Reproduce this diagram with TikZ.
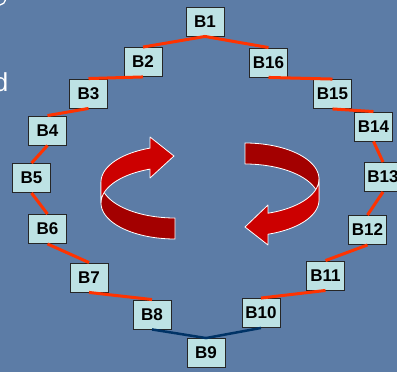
\documentclass[tikz,border=0pt]{standalone}
\usepackage{fontspec}
\setmainfont{Liberation Sans}
\usepackage{xcolor}
\definecolor{slide}{RGB}{92,124,166}
\definecolor{boxfill}{RGB}{189,226,228}
\definecolor{linkred}{RGB}{255,51,0}
\definecolor{linkblue}{RGB}{0,51,102}
\definecolor{ribbon}{RGB}{204,0,0}
\definecolor{ribbondark}{RGB}{163,0,0}

\begin{document}
\begin{tikzpicture}[x=1pt, y=-1pt]
        % Styles for the boxes, the links and the ribbon arrows
        \tikzstyle{block} = [rectangle, draw=black!85, line width=0.9pt, fill=boxfill,
                             minimum width=38pt, minimum height=29pt, inner sep=0pt,
                             font=\bfseries\fontsize{17}{17}\selectfont]
        \tikzstyle{link} = [linkred, line width=3pt]
        \tikzstyle{bottomlink} = [linkblue, line width=2.5pt]
        \tikzstyle{front} = [fill=ribbon, draw=white, line width=0.8pt, line join=round]
        \tikzstyle{back} = [fill=ribbondark, draw=white, line width=0.8pt, line join=round]

        % Slide background
        \fill[slide] (0,0) rectangle (397,372);
        \useasboundingbox (0,0) rectangle (397,372);

        % Bits of slide text cut at the left edge
        \draw[white, line width=1.3pt] (0,5) .. controls (3,4.5) and (5,2.5) .. (5.5,0);
        \node[white, anchor=base east, inner sep=0pt, font=\fontsize{26}{26}\selectfont] (cut) at (8.5,91) {d};

        % Left ribbon arrow (turns clockwise)
        \filldraw[back] plot[domain=180:90, samples=40] ({175+74*cos(\x)},{182+36*sin(\x)})
            -- plot[domain=90:180, samples=40] ({175+74*cos(\x)},{203+36*sin(\x)}) -- cycle;
        \filldraw[front] plot[domain=180:250.3, samples=40] ({175+74*cos(\x)},{182+36*sin(\x)})
            -- (150,137) -- (174,156) -- (150,178)
            -- plot[domain=250.3:180, samples=40] ({175+74*cos(\x)},{203+36*sin(\x)}) -- cycle;

        % Right ribbon arrow
        \filldraw[back] plot[domain=270:360, samples=40] ({245+74*cos(\x)},{179+36*sin(\x)})
            -- plot[domain=360:270, samples=40] ({245+74*cos(\x)},{200+36*sin(\x)}) -- cycle;
        \filldraw[front] plot[domain=0:71.9, samples=40] ({245+74*cos(\x)},{179+36*sin(\x)})
            -- (268,205) -- (245,227) -- (268,245)
            -- plot[domain=71.9:0, samples=40] ({245+74*cos(\x)},{200+36*sin(\x)}) -- cycle;

        % Blocks round the ring
        \node (b1) [block] at (205,21.5) {B1};
        \node (b2) [block] at (143,62) {B2};
        \node (b3) [block] at (88.5,93.5) {B3};
        \node (b4) [block] at (47.5,130.5) {B4};
        \node (b5) [block] at (31.5,178) {B5};
        \node (b6) [block] at (47.5,229) {B6};
        \node (b7) [block] at (89,277.5) {B7};
        \node (b8) [block] at (152,314.5) {B8};
        \node (b9) [block] at (206,353) {B9};
        \node (b10) [block] at (261,313) {B10};
        \node (b11) [block] at (325.5,275.5) {B11};
        \node (b12) [block] at (367.5,230) {B12};
        \node (b13) [block] at (383,177) {B13};
        \node (b14) [block] at (373.5,126.5) {B14};
        \node (b15) [block] at (332.5,94) {B15};
        \node (b16) [block] at (268.5,62.5) {B16};

        % Links
        \draw [link] (b1.south) -- (b2.north);
        \draw [link] (b2.south) -- (b3.north);
        \draw [link] (b3.south) -- (b4.north);
        \draw [link] (b4.south) -- (b5.north);
        \draw [link] (b5.south) -- (b6.north);
        \draw [link] (b6.south) -- (b7.north);
        \draw [link] (b7.south) -- (b8.north);
        \draw [bottomlink] (b8.south) -- (b9.north);
        \draw [bottomlink] (b10.south) -- (b9.north);
        \draw [link] (b11.south) -- (b10.north);
        \draw [link] (b12.south) -- (b11.north);
        \draw [link] (b13.south) -- (b12.north);
        \draw [link] (b14.south) -- (b13.north);
        \draw [link] (b15.south) -- (b14.north);
        \draw [link] (b16.south) -- (b15.north);
        \draw [link] (b1.south) -- (b16.north);
    \end{tikzpicture}
\end{document}
